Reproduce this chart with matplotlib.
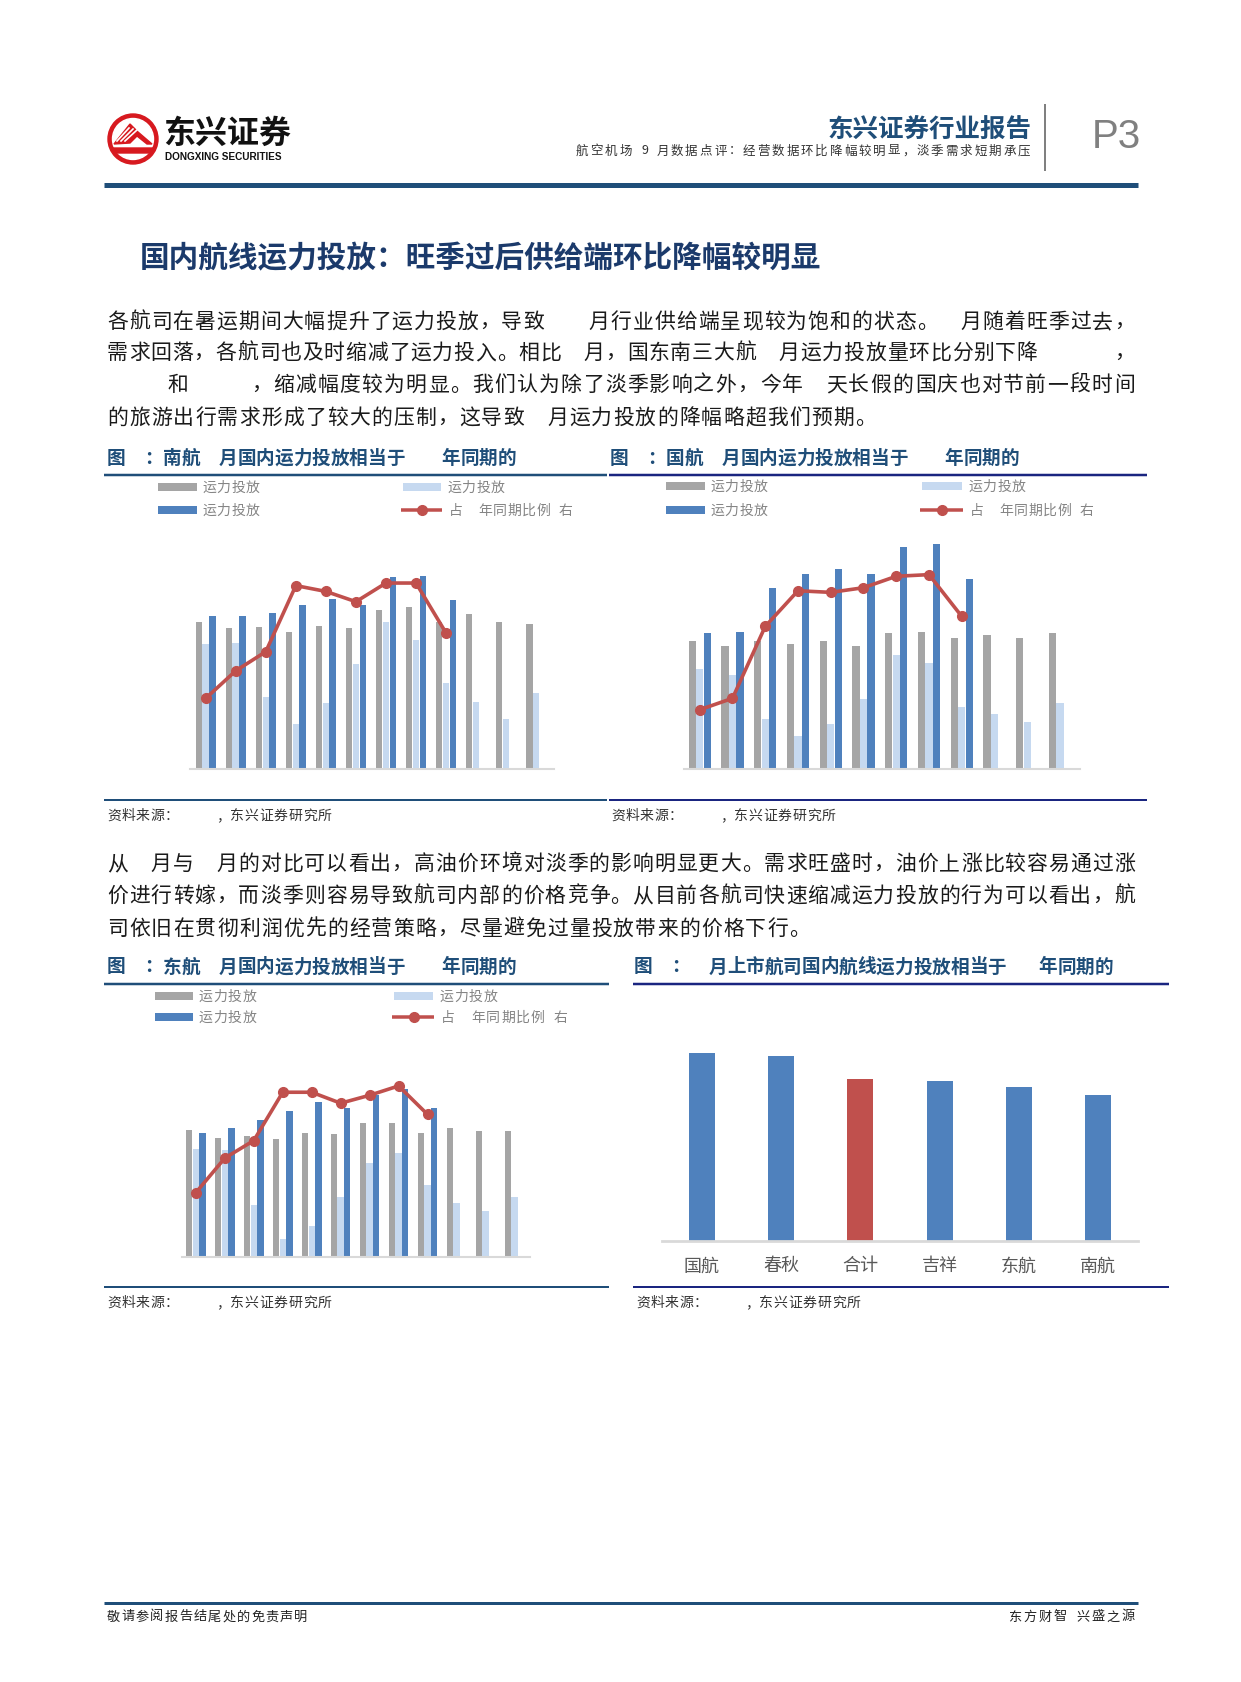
import matplotlib
matplotlib.use('Agg')
import matplotlib.pyplot as plt
from matplotlib.patches import Circle, Polygon
from matplotlib.lines import Line2D
import numpy as np

plt.rcParams['font.family'] = ['Noto Sans CJK SC', 'DejaVu Sans']

# ---------------- data ----------------
months = list(range(1, 13))

# 南航 (grey / light blue / blue capacity, red ratio on right axis)
csa_cap_a = [220, 211, 213, 206, 215, 211, 239, 243, 220, 232, 220, 217.5]
csa_cap_b = [187.5, 189, 107.5, 67.5, 98.5, 157, 220, 194, 129, 100, 75, 114]
csa_cap_c = [229, 229, 234, 246, 255, 246, 288.5, 290, 253]
csa_ratio = [70.3, 82.1, 90.3, 118.6, 116.1, 111.7, 119.7, 119.7, 98.3]

# 国航
ca_cap_a = [192, 185, 192, 187, 192, 185, 204, 206, 196.5, 201, 196.5, 204]
ca_cap_b = [150, 141, 75, 49.5, 67.5, 105, 170.5, 159, 93, 82, 70, 98.5]
ca_cap_c = [204, 206, 271, 292.5, 299.5, 292.5, 332.5, 337, 285.5]
ca_ratio = [65.4, 70.3, 101.1, 116.4, 115.7, 117.7, 122.6, 123.3, 105.4]

# 东航
ce_cap_a = [191, 179, 181.5, 177, 186.5, 184, 200.5, 200.5, 186.5, 193.5, 188.5, 188.5]
ce_cap_b = [162.5, 160, 78.5, 27, 46, 90.5, 141.5, 156, 108.5, 81, 69, 90.5]
ce_cap_c = [186.5, 193.5, 205, 219, 233, 223.5, 242.5, 251.5, 223.5]
ce_ratio = [67.6, 82.4, 89.9, 110.6, 110.6, 105.9, 109.3, 113.3, 101.1]

# 上市航司
airlines = ['国航', '春秋', '合计', '吉祥', '东航', '南航']
listed_ratio = [94.2, 92.5, 80.8, 79.8, 76.8, 73.2]

# ---------------- styles ----------------
GRAY = '#a5a5a5'
LBLUE = '#c6d9f0'
BLUE = '#4f81bd'
RED = '#c0504d'
NAVY = '#1f4e79'
NAVY2 = '#1a2580'
TXT = '#1a1a1a'
LEG = '#858585'

W, H = 1241, 1683
fig = plt.figure(figsize=(W / 100, H / 100), dpi=100)
fig.patch.set_facecolor('white')


def fx(x):
    return x / W


def fy(y):
    return 1 - y / H


def hline(x0, x1, y, lw_px, color):
    fig.add_artist(Line2D([fx(x0), fx(x1)], [fy(y), fy(y)], transform=fig.transFigure,
                          lw=lw_px * 0.72, color=color, solid_capstyle='butt'))


def vline(x, y0, y1, lw_px, color):
    fig.add_artist(Line2D([fx(x), fx(x)], [fy(y0), fy(y1)], transform=fig.transFigure,
                          lw=lw_px * 0.72, color=color, solid_capstyle='butt'))


def place(text, x0, y, fs, color, unit=None, x1=None, weight='normal', align='left'):
    widths = []
    for c in text:
        if c == ' ':
            widths.append(0.5)
        elif c == '\u2009':
            widths.append(0.25)
        elif ord(c) < 128:
            widths.append(0.55)
        else:
            widths.append(1.0)
    total = sum(widths)
    if unit is None:
        if x1 is not None:
            unit = (x1 - x0) / total
        else:
            unit = fs * 100 / 72
    if align == 'right':
        x0 = x1 - total * unit
    x = x0
    for c, w in zip(text, widths):
        if c not in (' ', '\u3000', '\u2009'):
            fig.text(fx(x), fy(y), c, fontsize=fs, color=color, fontweight=weight,
                     ha='left', va='center')
        x += w * unit


# ---------------- header ----------------
lax = fig.add_axes([fx(133 - 28), fy(140 + 28), 56 / W, 56 / H])
lax.set_xlim(-28, 28)
lax.set_ylim(-28, 28)
lax.set_aspect('equal')
lax.axis('off')
lax.add_patch(Circle((0, 0), 25, color='#d7191f'))
lax.add_patch(Circle((0, 0), 20.5, color='white'))
lax.add_patch(Polygon([(-19, -5), (-3, 15), (5, 7), (19, -5), (14, -5), (4, 3), (-3, -4)],
                      closed=True, color='#d7191f'))
for k in range(3):
    lax.plot([-16 + k * 4, -4 + k * 4], [-2 + k * 0, 11 - k * 1], color='white', lw=1.2)
lax.add_patch(Polygon([(-20.5, -9), (20.5, -9), (17, -14), (-17, -14)], closed=True, color='#d7191f'))

fig.text(fx(163), fy(134), '东兴证券', fontsize=23, fontweight='bold', color='#111111',
         ha='left', va='center')
fig.text(fx(165), fy(157), 'DONGXING SECURITIES', fontsize=7.2, fontweight='bold',
         color='#111111', ha='left', va='center', family=['Liberation Sans', 'DejaVu Sans'])

fig.text(fx(1032), fy(129), '东兴证券行业报告', fontsize=18.4, fontweight='bold', color=NAVY,
         ha='right', va='center')
place('航空机场 9 月数据点评：经营数据环比降幅较明显，淡季需求短期承压', 576, 151, 9, '#333333',
      x1=1032)
vline(1045, 105, 172, 2, '#808080')
fig.text(fx(1116), fy(137), 'P3', fontsize=29, color='#808080', ha='center', va='center',
         fontweight='normal', family=['Liberation Sans', 'DejaVu Sans'])
hline(104, 1138, 186, 5, NAVY)

# ---------------- section title ----------------
fig.text(fx(140), fy(258), '国内航线运力投放：旺季过后供给端环比降幅较明显', fontsize=21.3,
         fontweight='bold', color='#1b3a6b', ha='left', va='center')

# ---------------- paragraph 1 ----------------
p1 = [
    '各航司在暑运期间大幅提升了运力投放，导致\u3000\u3000月行业供给端呈现较为饱和的状态。\u3000月随着旺季过去，',
    '需求回落，各航司也及时缩减了运力投入。相比\u3000月，国东南三大航\u3000月运力投放量环比分别下降\u3000\u3000\u3000 ，',
    '\u3000\u3000 \u2009和\u3000\u3000 \u2009，缩减幅度较为明显。我们认为除了淡季影响之外，今年\u3000天长假的国庆也对节前一段时间',
]
for s, y in zip(p1, [322, 353, 385]):
    place(s, 107, y, 15, TXT, x1=1136)
place('的旅游出行需求形成了较大的压制，这导致\u3000月运力投放的降幅略超我们预期。', 107, 418, 15, TXT,
      unit=22.0)

# ---------------- paragraph 2 ----------------
p2 = [
    '从\u3000月与\u3000月的对比可以看出，高油价环境对淡季的影响明显更大。需求旺盛时，油价上涨比较容易通过涨',
    '价进行转嫁，而淡季则容易导致航司内部的价格竞争。从目前各航司快速缩减运力投放的行为可以看出，航',
]
for s, y in zip(p2, [864, 896]):
    place(s, 107, y, 15, TXT, x1=1136)
place('司依旧在贯彻利润优先的经营策略，尽量避免过量投放带来的价格下行。', 107, 929, 15, TXT, unit=22.0)

# ---------------- figure frames ----------------
TUNIT = 18.6
TFS = 13.4
place('图\u3000：南航\u3000月国内运力投放相当于\u3000\u3000年同期的', 107, 458, TFS, NAVY, unit=TUNIT, weight='bold')
place('图\u3000：国航\u3000月国内运力投放相当于\u3000\u3000年同期的', 610, 458, TFS, NAVY, unit=TUNIT, weight='bold')
place('图\u3000：东航\u3000月国内运力投放相当于\u3000\u3000年同期的', 107, 967, TFS, NAVY, unit=TUNIT, weight='bold')
place('图\u3000：\u3000月上市航司国内航线运力投放相当于\u3000 \u2009年同期的', 634, 967, TFS, NAVY, unit=TUNIT,
      weight='bold')

hline(104, 607, 476, 2.5, NAVY)
hline(609, 1147, 476, 2.5, NAVY2)
hline(104, 607, 801, 2, NAVY)
hline(609, 1147, 801, 2, NAVY2)
hline(104, 609, 985, 2.5, NAVY)
hline(633, 1169, 985, 2.5, NAVY2)
hline(104, 609, 1288, 2, NAVY)
hline(633, 1169, 1288, 2, NAVY2)

SRC = '资料来源：\u3000\u3000 ，东兴证券研究所'
place(SRC, 107, 816, 10, '#333333', unit=14.5)
place(SRC, 611, 816, 10, '#333333', unit=14.5)
place(SRC, 107, 1303, 10, '#333333', unit=14.5)
place(SRC, 636, 1303, 10, '#333333', unit=14.5)


# ---------------- legends ----------------
def legend(col1, col2, y1, y2, unit=14.6):
    gx0, gx1 = col1
    bx0, bx1 = col2
    hline(gx0, gx1, y1, 8, GRAY)
    place('运力投放', gx1 + 5, y1, 10, LEG, unit=unit)
    hline(bx0, bx1, y1, 8, LBLUE)
    place('运力投放', bx1 + 6, y1, 10, LEG, unit=unit)
    hline(gx0, gx1, y2, 8, BLUE)
    place('运力投放', gx1 + 5, y2, 10, LEG, unit=unit)
    hline(bx0 - 2, bx1 + 1, y2, 3.5, RED)
    fig.add_artist(Line2D([fx((bx0 + bx1) / 2)], [fy(y2)], transform=fig.transFigure,
                          marker='o', ms=7, color=RED, lw=0))
    place('占\u3000年同期比例 右', bx1 + 8, y2, 10, LEG, unit=unit)


legend((158, 197), (403, 441), 488, 511)
legend((666, 705), (922, 962), 487, 511)
legend((155, 193), (394, 433), 997, 1018, unit=15)


# ---------------- combo charts ----------------
def combo(rect, a, b, c, r, ylim_l, ylim_r, xlim):
    x0, x1, ytop, ybot = rect
    ax = fig.add_axes([fx(x0), fy(ybot), (x1 - x0) / W, (ybot - ytop) / H])
    w = 0.22
    off = 0.23
    ax.bar(np.arange(len(a)) - off, a, w, color=GRAY)
    ax.bar(np.arange(len(b)), b, w, color=LBLUE)
    ax.bar(np.arange(len(c)) + off, c, w, color=BLUE)
    ax.set_xlim(*xlim)
    ax.set_ylim(*ylim_l)
    for s in ['top', 'left', 'right']:
        ax.spines[s].set_visible(False)
    ax.spines['bottom'].set_color('#d9d9d9')
    ax.spines['bottom'].set_linewidth(1.5)
    ax.set_xticks([])
    ax.set_yticks([])
    ax.patch.set_alpha(0)
    ax2 = ax.twinx()
    ax2.plot(np.arange(len(r)), r, color=RED, lw=2.6, marker='o', ms=7)
    ax2.set_ylim(*ylim_r)
    ax2.axis('off')
    return ax


combo((190, 554, 530, 770), csa_cap_a, csa_cap_b, csa_cap_c, csa_ratio,
      (0, 360), (40, 142.86), (-0.524, 11.595))
combo((684, 1080, 530, 770), ca_cap_a, ca_cap_b, ca_cap_c, ca_ratio,
      (0, 360), (40, 142.86), (-0.48, 11.61))
combo((182, 530, 1030, 1258), ce_cap_a, ce_cap_b, ce_cap_c, ce_ratio,
      (0, 342), (40, 137.7), (-0.48, 11.54))

# ---------------- bar chart ----------------
ax4 = fig.add_axes([fx(662), fy(1242), (1138 - 662) / W, (1242 - 1020) / H])
colors4 = [RED if n == '合计' else BLUE for n in airlines]
ax4.bar(np.arange(len(airlines)), listed_ratio, 0.33, color=colors4)
ax4.set_xlim(-0.5, 5.5)
ax4.set_ylim(0, 111)
for s in ['top', 'left', 'right']:
    ax4.spines[s].set_visible(False)
ax4.spines['bottom'].set_color('#d9d9d9')
ax4.spines['bottom'].set_linewidth(2)
ax4.set_yticks([])
ax4.set_xticks(np.arange(len(airlines)))
ax4.set_xticklabels(airlines, fontsize=13, color='#595959')
ax4.tick_params(axis='x', length=0, pad=11)
ax4.patch.set_alpha(0)

# ---------------- footer ----------------
hline(104, 1138, 1604, 3, NAVY)
place('敬请参阅报告结尾处的免责声明', 107, 1617, 9.5, '#222222', unit=14.4)
place('东方财智 兴盛之源', 0, 1617, 9.5, '#222222', unit=15, x1=1136, align='right')

fig.savefig('out.png', dpi=100, facecolor='white')
